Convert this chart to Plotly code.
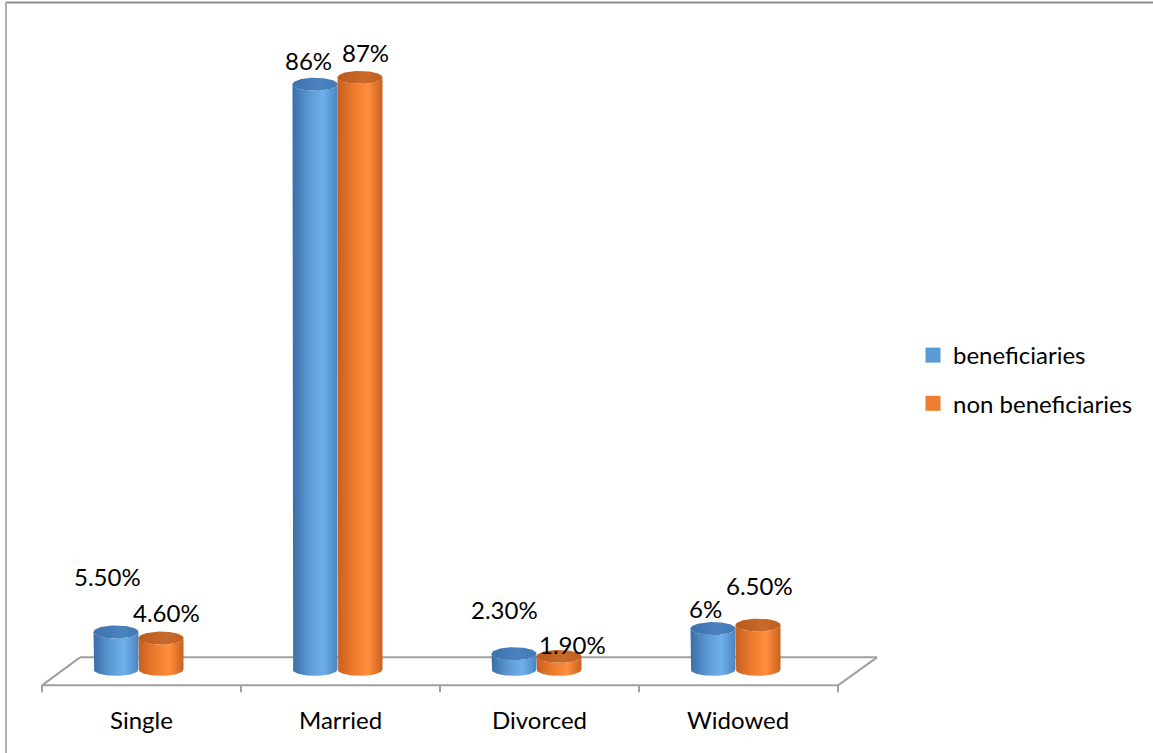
import numpy as np
import plotly.graph_objects as go

# ---- data ----
categories = ["Single", "Married", "Divorced", "Widowed"]
beneficiaries = [5.5, 86, 2.3, 6]
non_beneficiaries = [4.6, 87, 1.9, 6.5]
labels_benef = ["5.50%", "86%", "2.30%", "6%"]
labels_non = ["4.60%", "87%", "1.90%", "6.50%"]
series_names = ["beneficiaries", "non beneficiaries"]

# ---- canvas / axes geometry (pixels) ----
W, H = 1153, 753
ML, MR, MT, MB = 39, 253, 23, 2.4
Y_MIN, Y_MAX = -12, 95
PW = W - ML - MR
PH = H - MT - MB
N = len(categories)
UX = 199.0                       # pixels per category slot
X_MIN, X_MAX = -0.5, -0.5 + PW / UX
UY = PH / (Y_MAX - Y_MIN)         # pixels per percentage point


def px_x(p):
    return X_MIN + (p - ML) / UX


def px_y(p):
    return Y_MAX - (p - MT) / UY


# cylinder geometry
RX = 22.5 / UX
RY = 6.5 / UY
OFFSETS = [-RX, RX]

BODY_SCALES = [
    [[0, "#3a6ea8"], [0.35, "#5b97d2"], [0.68, "#6eb0ec"], [1, "#4a84c0"]],
    [[0, "#c85f1e"], [0.35, "#ec7a2e"], [0.68, "#ff8e3c"], [1, "#c9611f"]],
]
TOP_SCALES = [
    [[0, "#3d71ad"], [0.6, "#4a82bf"], [1, "#4379b4"]],
    [[0, "#b95a1c"], [0.6, "#c9692a"], [1, "#bf6022"]],
]
LEGEND_COLORS = ["#5b9bd5", "#ed7d31"]
FONT = "Lato, 'Open Sans', sans-serif"

# label nudges in pixels (dx, dy-up) per series per category
LABEL_SHIFT = [
    [(-8.5, 55), (-6.5, 24), (-9.5, 44), (-8, 20)],
    [(5, 26), (5, 24.5), (13, 12), (1, 40)],
]

fig = go.Figure()

t_bot = np.linspace(np.pi, 2 * np.pi, 40)
t_top = np.linspace(0, np.pi, 40)
t_full = np.linspace(0, 2 * np.pi, 80)

series = [beneficiaries, non_beneficiaries]
labels = [labels_benef, labels_non]
annotations = []

for i in range(N):
    for s in range(2):
        v = series[s][i]
        c = i + OFFSETS[s]
        # body: side walls + rounded bottom + front rim of the top
        bx = np.concatenate([[c - RX, c - RX], c + RX * np.cos(t_bot), [c + RX],
                             c + RX * np.cos(t_top)])
        by = np.concatenate([[v, 0], RY * np.sin(t_bot), [v],
                             v - RY * np.sin(t_top)])
        fig.add_trace(go.Scatter(
            x=bx, y=by, mode="lines", fill="toself", line=dict(width=0),
            fillgradient=dict(type="horizontal", colorscale=BODY_SCALES[s]),
            hoverinfo="skip", showlegend=False))
        # top ellipse
        fig.add_trace(go.Scatter(
            x=c + RX * np.cos(t_full), y=v + RY * np.sin(t_full),
            mode="lines", fill="toself", line=dict(width=0),
            fillgradient=dict(type="horizontal", colorscale=TOP_SCALES[s]),
            hoverinfo="skip", showlegend=False))
        dx, dy = LABEL_SHIFT[s][i]
        annotations.append(dict(
            x=c, y=v, xref="x", yref="y", text=labels[s][i], showarrow=False,
            xshift=dx, yshift=dy, font=dict(family=FONT, size=24, color="#000000")))

# legend entries
for s in range(2):
    fig.add_trace(go.Scatter(
        x=[None], y=[None], mode="markers", name=series_names[s],
        legendgroup=series_names[s],
        marker=dict(symbol="square", size=15, color=LEGEND_COLORS[s])))

# category labels
for i, cat in enumerate(categories):
    annotations.append(dict(
        x=i + 0.015, y=px_y(719), xref="x", yref="y", text=cat, showarrow=False,
        font=dict(family=FONT, size=24, color="#000000")))

# floor outline
grid = "#a0a0a0"
front_y, back_y = px_y(685), px_y(657)
fl, fr = px_x(42), px_x(838)
bl, br = px_x(80), px_x(877)
shapes = [
    dict(type="line", xref="x", yref="y", x0=fl, y0=front_y, x1=fr, y1=front_y,
         line=dict(color=grid, width=2), layer="below"),
    dict(type="line", xref="x", yref="y", x0=bl, y0=back_y, x1=br, y1=back_y,
         line=dict(color=grid, width=2), layer="below"),
    dict(type="line", xref="x", yref="y", x0=fl, y0=front_y, x1=bl, y1=back_y,
         line=dict(color=grid, width=2), layer="below"),
    dict(type="line", xref="x", yref="y", x0=fr, y0=front_y, x1=br, y1=back_y,
         line=dict(color=grid, width=2), layer="below"),
]
for k in range(N + 1):
    xx = fl + k * (fr - fl) / N
    shapes.append(dict(type="line", xref="x", yref="y", x0=xx, y0=front_y,
                       x1=xx, y1=px_y(692), line=dict(color=grid, width=2),
                       layer="below"))


# chart frame (top and left edges)
def pxp_x(p):
    return (p - ML) / PW


def pxp_y(p):
    return (H - MB - p) / PH


shapes.append(dict(type="line", xref="paper", yref="paper", x0=pxp_x(6), y0=pxp_y(2.5),
                   x1=pxp_x(W + 5), y1=pxp_y(2.5), line=dict(color="#8c8c8c", width=2)))
shapes.append(dict(type="line", xref="paper", yref="paper", x0=pxp_x(6), y0=pxp_y(2),
                   x1=pxp_x(6), y1=pxp_y(H + 5), line=dict(color="#b0b0b0", width=2)))

fig.update_layout(
    width=W, height=H,
    margin=dict(l=ML, r=MR, t=MT, b=MB, pad=0),
    paper_bgcolor="white", plot_bgcolor="rgba(0,0,0,0)",
    xaxis=dict(range=[X_MIN, X_MAX], visible=False, fixedrange=True),
    yaxis=dict(range=[Y_MIN, Y_MAX], visible=False, fixedrange=True),
    showlegend=True,
    legend=dict(xref="container", yref="container", x=913 / W, y=1 - 333 / H,
                xanchor="left", yanchor="top", tracegroupgap=14,
                font=dict(family=FONT, size=24, color="#000000"),
                bgcolor="rgba(0,0,0,0)"),
    annotations=annotations,
    shapes=shapes,
)

fig.write_html("out.html")
